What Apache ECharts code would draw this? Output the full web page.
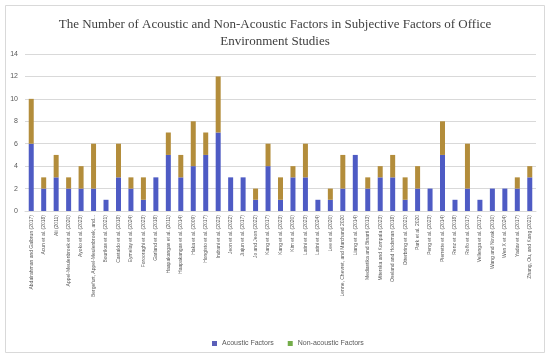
<!DOCTYPE html>
<html>
<head>
<meta charset="utf-8">
<script src="https://cdn.jsdelivr.net/npm/echarts@6/dist/echarts.min.js"></script>
<style>html,body{margin:0;padding:0;background:#fff}#c{width:550px;height:357px}</style>
</head>
<body>
<div id="c"></div>
<script>
const categories = [
  "Abdalrahman and Galbrun (2017)", "Acun et al. (2018)", "Ali (2011)", "Appel-Meulenbroek et al. (2020)",
  "Ayoko et al. (2023)", "Bergefurt, Appel-Meulenbroek, and...", "Bourikas et al. (2021)", "Castaldo et al. (2018)",
  "Eymelay et al. (2024)", "Forooraghi et al. (2023)", "Garland et al. (2018)", "Haapakangas et al. (2011)",
  "Haapakangas et al. (2014)", "Haka et al. (2009)", "Hongisto et al. (2017)", "Indrani et al. (2023)",
  "Jeon et al. (2022)", "Jiajun et al. (2017)", "Jo and Jeon (2022)", "Kang et al. (2017)",
  "Kang et al. (2023)", "Kim et al. (2020)", "Latini et al. (2023)", "Latini et al. (2024)",
  "Lee et al. (2020)", "Lenne, Chevret, and Marchand 2020", "Liang et al. (2014)", "Mediastika and Binarti (2013)",
  "Miterska and Kompala (2023)", "Oseland and Hodsman (2018)", "Otterbring et al. (2021)", "Park et al. 2020",
  "Peng et al. (2023)", "Pierrette et al. (2014)", "Renz et al. (2018)", "Rolfo et al. (2017)",
  "Vellenga et al. (2017)", "Wang and Novak (2010)", "Wen X et al. (2024)", "Yadav et al. (2017)",
  "Zhang, Ou, and Kang (2021)"
];
const acoustic = [6,2,3,2,2,2,1,3,2,1,3,5,3,4,5,7,3,3,1,4,1,3,3,1,1,2,5,2,3,3,1,2,2,5,1,2,1,2,2,2,3];
const nonAcoustic = [4,1,2,1,2,4,0,3,1,2,0,2,2,4,2,5,0,0,1,2,2,1,3,0,1,3,0,1,1,2,2,2,0,3,0,4,0,0,0,1,1];
const yTicks = [0,2,4,6,8,10,12,14];
const titleText = "The Number of Acoustic and Non-Acoustic Factors in Subjective Factors of Office\nEnvironment Studies";
const seriesNames = ["Acoustic Factors", "Non-acoustic Factors"];

const chart = echarts.init(document.getElementById('c'), null, {renderer: 'canvas'});
chart.setOption({
  animation: false,
  backgroundColor: '#fff',
  title: {
    text: titleText, left: 'center', top: 11,
    textStyle: {fontFamily: 'Liberation Serif', fontWeight: 'normal', fontSize: 13, color: '#404040', lineHeight: 17}
  },
  graphic: [{type: 'rect', shape: {x: 5.5, y: 5.5, width: 539, height: 347}, style: {fill: 'none', stroke: '#d9d9d9', lineWidth: 1}, silent: true}],
  legend: {
    top: 335, left: 207, itemWidth: 5, itemHeight: 5, itemGap: 14,
    textStyle: {fontSize: 7, color: '#595959', fontFamily: 'Liberation Sans'},
    data: [
      {name: seriesNames[0], icon: 'rect', itemStyle: {color: '#5b5fb8'}},
      {name: seriesNames[1], icon: 'rect', itemStyle: {color: '#74ad4a'}}
    ]
  },
  grid: {left: 25, right: 14, top: 54, bottom: 146, containLabel: false},
  xAxis: {
    type: 'category', data: categories,
    axisLine: {lineStyle: {color: '#d9d9d9'}}, axisTick: {show: false},
    axisLabel: {interval: 0, rotate: 90, fontSize: 5, color: '#595959', margin: 4, fontFamily: 'Liberation Sans'}
  },
  yAxis: {
    type: 'value', min: yTicks[0], max: yTicks[yTicks.length - 1], interval: 2,
    axisLine: {show: false}, axisTick: {show: false},
    axisLabel: {fontSize: 7, color: '#595959', margin: 7, fontFamily: 'Liberation Sans'},
    splitLine: {lineStyle: {color: '#d9d9d9'}}
  },
  series: [
    {name: seriesNames[0], type: 'bar', stack: 't', data: acoustic, barWidth: 5, itemStyle: {color: '#4e5bc4'}},
    {name: seriesNames[1], type: 'bar', stack: 't', data: nonAcoustic, barWidth: 5, itemStyle: {color: '#b38d3b'}}
  ]
});
</script>
</body>
</html>
